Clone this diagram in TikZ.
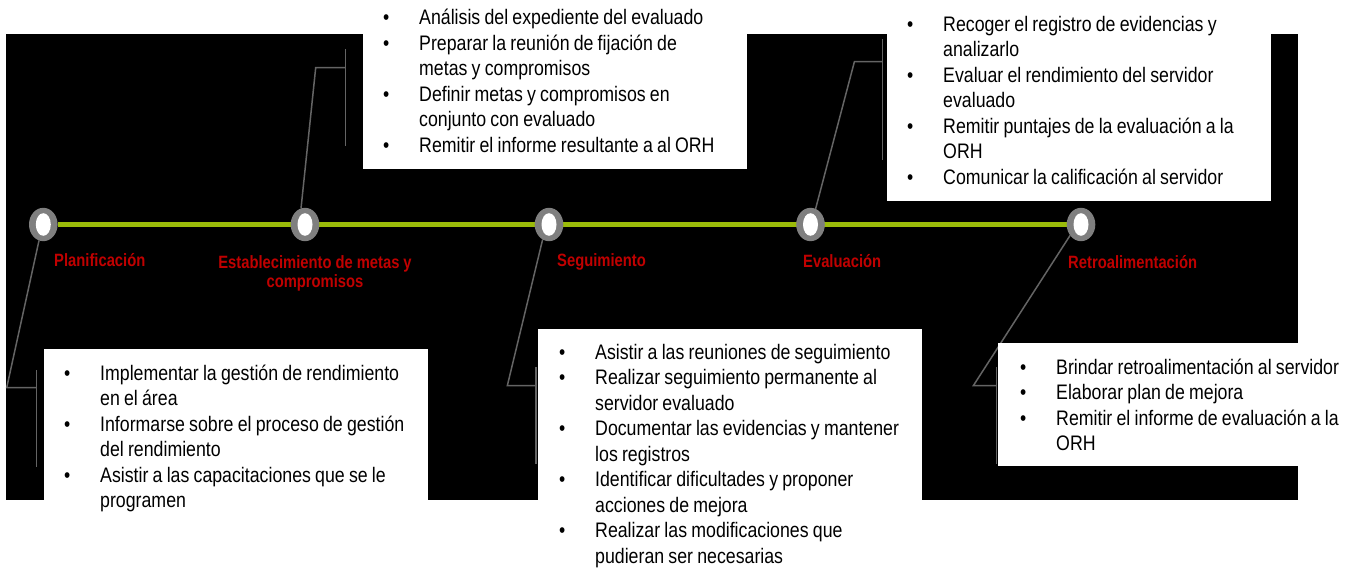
\documentclass[tikz,border=0pt]{standalone}
\usepackage{fontspec}
\setmainfont{Liberation Sans}[FakeStretch=0.83]
\newfontfamily\bodyfont{Liberation Sans}[FakeStretch=0.845]
\usetikzlibrary{shapes.geometric,backgrounds}
\definecolor{ringgray}{RGB}{127,127,127}
\definecolor{conngray}{RGB}{100,100,100}
\definecolor{limeline}{RGB}{155,187,10}
\definecolor{lblred}{RGB}{192,0,0}
\newcommand\itm{\makebox[36pt][l]{•}}
\newcommand\cnt{\hspace*{36pt}}
\newcommand\tightsp{\spaceskip=4.2pt plus 1pt minus 1pt\relax}
\newcommand\lblsp{\spaceskip=3pt plus 1pt minus 1pt\relax}
\begin{document}
\begin{tikzpicture}[x=1pt,y=-1pt,
 ring/.style={ellipse, fill=ringgray, minimum width=28.6pt, minimum height=33.4pt, inner sep=0pt, outer sep=0pt,
   path picture={\fill[white] (path picture bounding box.center) ellipse [x radius=7.5pt, y radius=11.3pt];}},
 conn/.style={draw=conngray, line width=1.5pt},
 gline/.style={draw=limeline, line width=5pt},
 wbox/.style={fill=white, inner sep=0pt, outer sep=0pt, anchor=north west},
 btext/.style={inner sep=0pt, anchor=base west, text width=400pt, align=left, font=\bodyfont\fontsize{21}{25.5}\selectfont, execute at begin node=\tightsp},
 lbl/.style={inner sep=0pt, text=lblred, font=\bfseries\fontsize{17.8}{20}\selectfont, anchor=base west, execute at begin node=\lblsp},
]
\useasboundingbox (0,0) rectangle (1356,569);

% timeline nodes
\node[ring] (cP) at (43.3,224.5) {};
\node[ring] (cE) at (305,224.5) {};
\node[ring] (cS) at (549,224.5) {};
\node[ring] (cV) at (810.5,224.5) {};
\node[ring] (cR) at (1081,224.5) {};

% connector knees and brackets
\coordinate (kP) at (6.7,387.7);  \coordinate (aP) at (36.7,370);  \coordinate (zP) at (36.7,466.7);
\coordinate (kE) at (315.7,67.7); \coordinate (aE) at (345.7,49);  \coordinate (zE) at (345.7,146);
\coordinate (kS) at (507.3,385.7);\coordinate (aS) at (536,367);   \coordinate (zS) at (536,464);
\coordinate (kV) at (854.4,61.7); \coordinate (aV) at (882.6,39.3);\coordinate (zV) at (882.6,160);
\coordinate (kR) at (973.3,385.7);\coordinate (aR) at (996.7,367); \coordinate (zR) at (996.7,464);

\begin{pgfonlayer}{background}
\fill[white] (0,0) rectangle (1356,569);
\fill[black] (6,34) rectangle (1298,500);
\draw[conn] (cP.255) -- (kP) -- (kP -| aP);
\draw[conn] (aP) -- (zP);
\draw[conn] (cE.104) -- (kE) -- (kE -| aE);
\draw[conn] (aE) -- (zE);
\draw[conn] (cS.247) -- (kS) -- (kS -| aS);
\draw[conn] (aS) -- (zS);
\draw[conn] (cV.72) -- (kV) -- (kV -| aV);
\draw[conn] (aV) -- (zV);
\draw[conn] (cR.225) -- (kR) -- (kR -| aR);
\draw[conn] (aR) -- (zR);
\draw[gline] (cP) -- (cR);
\end{pgfonlayer}

% labels
\node[lbl] (lP) at (54,266.5) {Planificación};
\node[lbl, anchor=base, text width=260pt, align=center] (lE) at (315,268) {Establecimiento de metas y\\compromisos};
\node[lbl] (lS) at (557,266) {Seguimiento};
\node[lbl] (lV) at (803,267) {Evaluación};
\node[lbl] (lR) at (1068,268) {Retroalimentación};

% white boxes
\node[wbox, minimum width=384pt, minimum height=174pt] (bP) at (44,349) {};
\node[wbox, minimum width=384pt, minimum height=169pt] (bE) at (363,0) {};
\node[wbox, minimum width=384pt, minimum height=240pt] (bS) at (538,329) {};
\node[wbox, minimum width=384pt, minimum height=201pt] (bV) at (887,0) {};
\node[wbox, minimum width=358pt, minimum height=123pt] (bR) at (998,343) {};

% box texts
\node[btext] (xP) at (64,380) {\itm Implementar la gestión de rendimiento\\\cnt en el área\\\itm Informarse sobre el proceso de gestión\\\cnt del rendimiento\\\itm Asistir a las capacitaciones que se le\\\cnt programen};
\node[btext] (xE) at (383,25) {\itm Análisis del expediente del evaluado\\\itm Preparar la reunión de fijación de\\\cnt metas y compromisos\\\itm Definir metas y compromisos en\\\cnt conjunto con evaluado\\\itm Remitir el informe resultante a al ORH};
\node[btext] (xS) at (559,359) {\itm Asistir a las reuniones de seguimiento\\\itm Realizar seguimiento permanente al\\\cnt servidor evaluado\\\itm Documentar las evidencias y mantener\\\cnt los registros\\\itm Identificar dificultades y proponer\\\cnt acciones de mejora\\\itm Realizar las modificaciones que\\\cnt pudieran ser necesarias};
\node[btext] (xV) at (907,31.5) {\itm Recoger el registro de evidencias y\\\cnt analizarlo\\\itm Evaluar el rendimiento del servidor\\\cnt evaluado\\\itm Remitir puntajes de la evaluación a la\\\cnt ORH\\\itm Comunicar la calificación al servidor};
\node[btext] (xR) at (1020,374) {\itm Brindar retroalimentación al servidor\\\itm Elaborar plan de mejora\\\itm Remitir el informe de evaluación a la\\\cnt ORH};
\end{tikzpicture}
\end{document}
